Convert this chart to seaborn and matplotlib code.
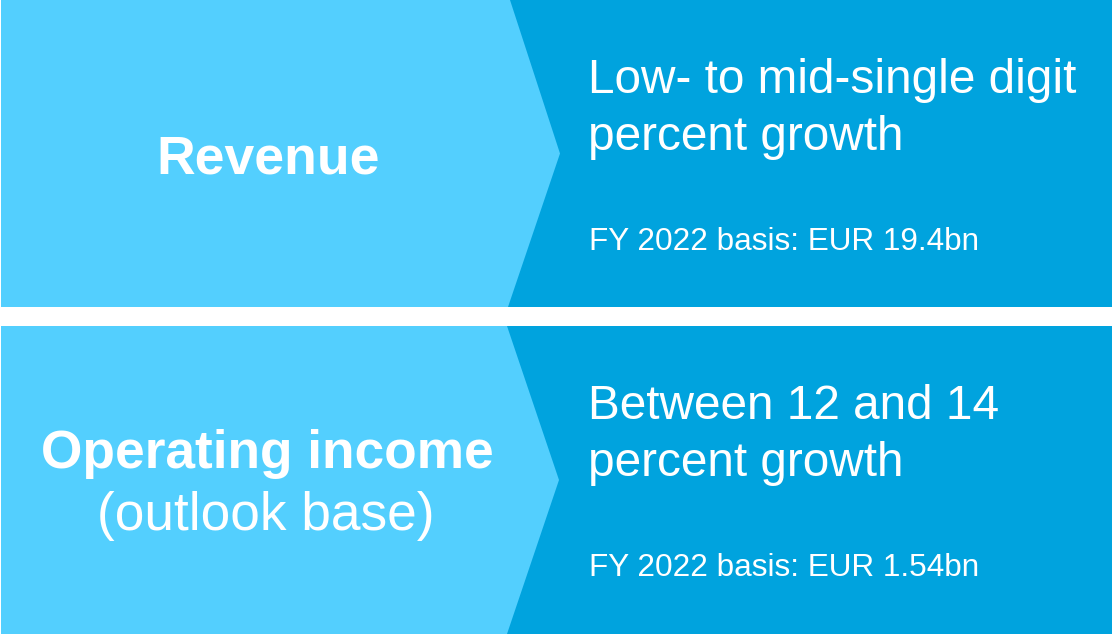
import matplotlib
matplotlib.use('Agg')
import matplotlib.pyplot as plt
import seaborn as sns
from matplotlib.patches import Polygon, Rectangle

# Style
sns.set_theme(style='white')
plt.rcParams['font.family'] = ['Liberation Sans', 'DejaVu Sans']

# Data
kpi_titles = ['Revenue', 'Operating income']
kpi_subtitles = ['', '(outlook base)']
outlook_lines = [['Low- to mid-single digit', 'percent growth'],
                 ['Between 12 and 14', 'percent growth']]
basis_texts = ['FY 2022 basis: EUR 19.4bn', 'FY 2022 basis: EUR 1.54bn']

light_blue = '#53CFFE'
dark_blue = '#00A3DE'

W, H = 1112, 634
fig = plt.figure(figsize=(W / 100, H / 100), dpi=100)
ax = fig.add_axes([0, 0, 1, 1])
ax.set_xlim(0, W)
ax.set_ylim(H, 0)
ax.axis('off')

# panel geometry (pixels): top, bottom, chevron top x, tip x, bottom x
panels = [(0, 307, 510, 560, 508),
          (326, 634, 507, 559, 507)]

for i, (top, bot, x0, tip, x1) in enumerate(panels):
    mid = (top + bot) / 2
    ax.add_patch(Rectangle((1, top), W, bot - top, color=dark_blue, lw=0))
    ax.add_patch(Polygon([(1, top), (x0, top), (tip, mid), (x1, bot), (1, bot)],
                         closed=True, color=light_blue, lw=0))

    # left label
    if kpi_subtitles[i]:
        ax.text(267, mid - 12, kpi_titles[i], color='white', fontsize=38.3,
                fontweight='bold', ha='center', va='baseline')
        ax.text(266, mid + 50, kpi_subtitles[i], color='white', fontsize=38.3,
                ha='center', va='baseline')
    else:
        ax.text(268, mid + 19.5, kpi_titles[i], color='white', fontsize=38.5,
                fontweight='bold', ha='center', va='baseline')

    # right text
    for j, line in enumerate(outlook_lines[i]):
        ax.text(588, top + 93 + j * 57.5, line, color='white', fontsize=34.4,
                ha='left', va='baseline')
    ax.text(589, top + 250, basis_texts[i], color='white', fontsize=22.7,
            ha='left', va='baseline')

fig.savefig('out.png', dpi=100, facecolor='white')
